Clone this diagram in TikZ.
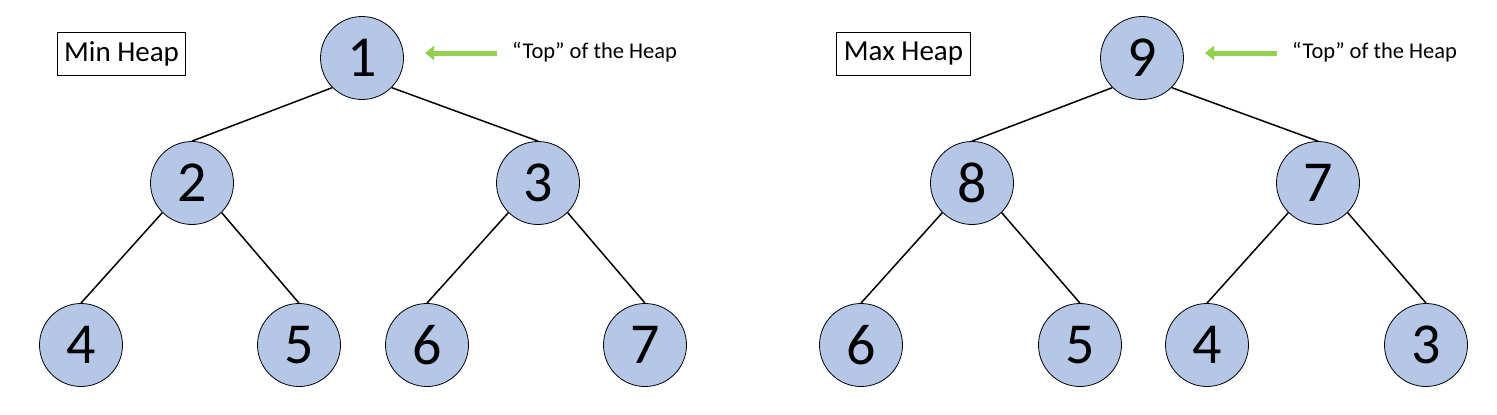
\documentclass[tikz,border=0pt]{standalone}
\usepackage{fontspec}
\setmainfont{Carlito}
\usetikzlibrary{arrows.meta}
\definecolor{nodefill}{HTML}{B4C7E7}
\definecolor{arrgreen}{HTML}{92D050}
\tikzset{
  heapnode/.style={circle, draw=black, line width=0.8pt, fill=nodefill, minimum size=83pt, inner sep=0pt, font=\fontsize{58}{58}\selectfont},
  edge/.style={draw=black, line width=1.5pt},
  titlebox/.style={draw=black, line width=1pt, inner xsep=7pt, minimum height=43pt, font=\fontsize{29}{30}\selectfont},
  topnote/.style={anchor=base west, inner sep=0pt, font=\fontsize{22.5}{24}\selectfont},
  greenarrow/.style={draw=arrgreen, line width=5pt, -{Triangle[width=14pt,length=9pt]}}
}
\begin{document}
\begin{tikzpicture}[x=1pt,y=-1pt]
\useasboundingbox (0,0) rectangle (1497,415);
% Min heap
\node[titlebox] (minlbl) at (121.5,53.5) {Min Heap};
\node[heapnode] (a1) at (362,58) {1};
\node[heapnode] (a2) at (192,183) {2};
\node[heapnode] (a3) at (538,183) {3};
\node[heapnode] (a4) at (81,345) {4};
\node[heapnode] (a5) at (299,345) {5};
\node[heapnode] (a6) at (427,345) {6};
\node[heapnode] (a7) at (645,345) {7};
\draw[edge] (a1.south west) -- (a2.north);
\draw[edge] (a1.south east) -- (a3.north);
\draw[edge] (a2.south west) -- (a4.north);
\draw[edge] (a2.south east) -- (a5.north);
\draw[edge] (a3.south west) -- (a6.north);
\draw[edge] (a3.south east) -- (a7.north);
\node[topnote] (noteA) at (512,58) {“Top” of the Heap};
\coordinate (tailA) at (497,53);
\coordinate (headA) at (425,53);
\draw[greenarrow] (tailA) -- (headA);
% Max heap
\node[titlebox] (maxlbl) at (903.5,53.5) {Max Heap};
\node[heapnode] (b1) at (1142,58) {9};
\node[heapnode] (b2) at (972,183) {8};
\node[heapnode] (b3) at (1318,183) {7};
\node[heapnode] (b4) at (861,345) {6};
\node[heapnode] (b5) at (1080,345) {5};
\node[heapnode] (b6) at (1207,345) {4};
\node[heapnode] (b7) at (1426,345) {3};
\draw[edge] (b1.south west) -- (b2.north);
\draw[edge] (b1.south east) -- (b3.north);
\draw[edge] (b2.south west) -- (b4.north);
\draw[edge] (b2.south east) -- (b5.north);
\draw[edge] (b3.south west) -- (b6.north);
\draw[edge] (b3.south east) -- (b7.north);
\node[topnote] (noteB) at (1292,58) {“Top” of the Heap};
\coordinate (tailB) at (1277,53);
\coordinate (headB) at (1205,53);
\draw[greenarrow] (tailB) -- (headB);
\end{tikzpicture}
\end{document}
